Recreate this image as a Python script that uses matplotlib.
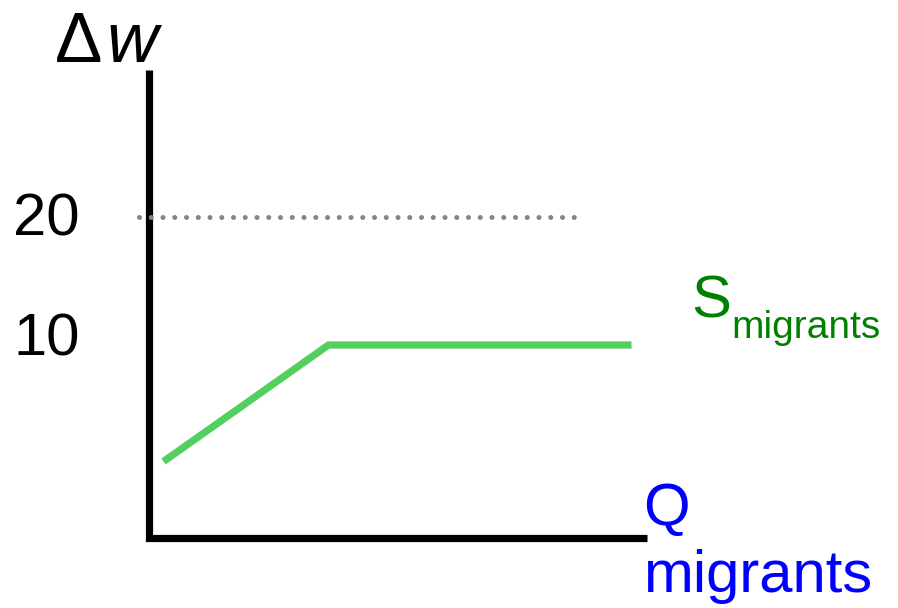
import matplotlib
matplotlib.use('Agg')
import matplotlib.pyplot as plt

plt.rcParams['font.family'] = ['Liberation Sans', 'DejaVu Sans']

# supply curve of migrants (Q, delta w)
supply_q = [0.3, 3.6, 9.66]
supply_w = [0.9, 10, 10]

# reference level
ref_w = 20
ref_q = [-0.2, 8.5]

tick_labels = ['20', '10']
tick_baselines_px = [235, 355]

W, H = 898, 608
fig = plt.figure(figsize=(W / 100, H / 100), dpi=100)
ax = fig.add_axes([0, 0, 1, 1])

# pixel <-> data scaling: x 50 px per unit, y 12.8 px per unit
x0_px, y0_px, sx, sy = 148.5, 473, 50.0, 12.8
ax.set_xlim(-x0_px / sx, (W - x0_px) / sx)
ax.set_ylim((y0_px - H) / sy, y0_px / sy)
ax.axis('off')

def fpx(x, y):
    return x / W, 1 - y / H

# axes drawn as lines
ax.plot([0, 0, 9.97], [31.5, -5.1, -5.1], color='black', lw=5.2,
        solid_joinstyle='miter', solid_capstyle='butt')

# dotted reference line
ax.plot(ref_q, [ref_w, ref_w], color='#858585', lw=3.6,
        linestyle=(0, (0.01, 2.34)), dash_capstyle='round')

# supply curve
ax.plot(supply_q, supply_w, color='#52cf5f', lw=5.2,
        solid_capstyle='butt', solid_joinstyle='miter')

# y tick labels
for lab, by in zip(tick_labels, tick_baselines_px):
    fig.text(*fpx(80, by), lab, fontsize=43, ha='right', va='baseline')

fig.text(*fpx(55, 62), '\u0394', fontsize=51, ha='left', va='baseline')
fig.text(*fpx(106, 62), 'w', fontsize=51, style='italic', ha='left', va='baseline')

fig.text(*fpx(691, 318), 'S', fontsize=43, color='#008000', ha='left', va='baseline')
fig.text(*fpx(731, 338), 'migrants', fontsize=28, color='#008000', ha='left', va='baseline')

fig.text(*fpx(643, 525), 'Q', fontsize=43, color='#0000ff', ha='left', va='baseline')
fig.text(*fpx(643, 592), 'migrants', fontsize=43, color='#0000ff', ha='left', va='baseline')

fig.savefig('out.png', dpi=100)
